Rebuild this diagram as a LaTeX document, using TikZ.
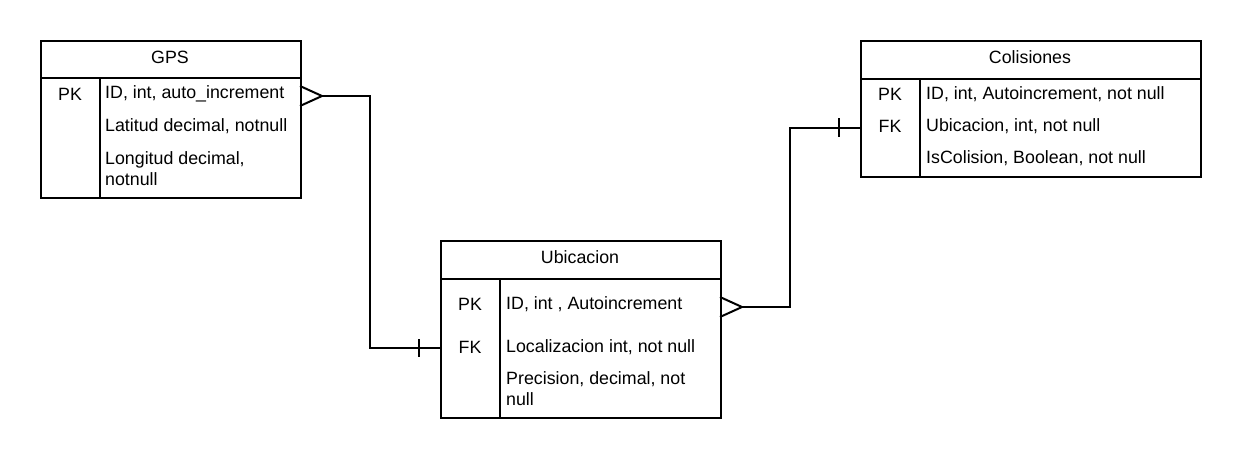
\documentclass[tikz,border=0pt]{standalone}
\usepackage{fontspec}
\setmainfont{Liberation Sans}
\begin{document}
\begin{tikzpicture}[x=1pt,y=-1pt,
  every node/.style={font=\fontsize{17.8}{21}\selectfont, inner sep=0pt},
  tbl/.style={draw, line width=2pt, anchor=north west, inner sep=0pt},
  sep/.style={line width=2pt},
  conn/.style={line width=2pt},
  fld/.style={anchor=west, align=left},
  key/.style={anchor=center}]
\useasboundingbox (0,0) rectangle (1240,458);
\fill[white] (0,0) rectangle (1240,458);

% GPS
\node[tbl, minimum width=260pt, minimum height=157pt] (gps) at (40,40) {};
\draw[sep] (40,78) -- (300,78);
\draw[sep] (100,78) -- (100,197);
\node (gpst) at (170,57) {GPS};
\node[key] (gpspk) at (70,94) {PK};
\node[fld] (gpsf1) at (105,94) {ID, int, auto\_increment};
\node[fld] (gpsf2) at (105,126) {Latitud decimal, notnull};
\node[fld] (gpsf3) at (105,168.5) {Longitud decimal,\\notnull};

% Ubicacion
\node[tbl, minimum width=280pt, minimum height=177pt] (ubi) at (440,240) {};
\draw[sep] (440,279) -- (720,279);
\draw[sep] (500,279) -- (500,417);
\node (ubit) at (580,257) {Ubicacion};
\node[key] (ubipk) at (470,304) {PK};
\node[fld] (ubif1) at (506,304) {ID, int , Autoincrement};
\node[key] (ubifk) at (470,347) {FK};
\node[fld] (ubif2) at (506,347) {Localizacion int, not null};
\node[fld] (ubif3) at (506,389) {Precision, decimal, not\\null};

% Colisiones
\node[tbl, minimum width=340pt, minimum height=136pt] (col) at (860,40) {};
\draw[sep] (860,79) -- (1200,79);
\draw[sep] (920,79) -- (920,176);
\node (colt) at (1030,57) {Colisiones};
\node[key] (colpk) at (890,94) {PK};
\node[fld] (colf1) at (926,94) {ID, int, Autoincrement, not null};
\node[key] (colfk) at (890,126) {FK};
\node[fld] (colf2) at (926,126) {Ubicacion, int, not null};
\node[fld] (colf3) at (926,158) {IsColision, Boolean, not null};

% connector GPS -> Ubicacion
\coordinate (a1) at (300,96);
\coordinate (a2) at (322,96);
\coordinate (b1) at (440,348);
\draw[conn] (300,86) -- (a2) -- (300,106);
\draw[conn, line join=miter] (a2) -- (370,96) -- (370,348) -- (b1);
\draw[conn] (419,339) -- (419,357);

% connector Ubicacion -> Colisiones
\coordinate (c2) at (742,307);
\coordinate (d1) at (860,128);
\draw[conn] (720,297) -- (c2) -- (720,317);
\draw[conn, line join=miter] (c2) -- (790,307) -- (790,128) -- (d1);
\draw[conn] (839,118) -- (839,137);
\end{tikzpicture}
\end{document}
